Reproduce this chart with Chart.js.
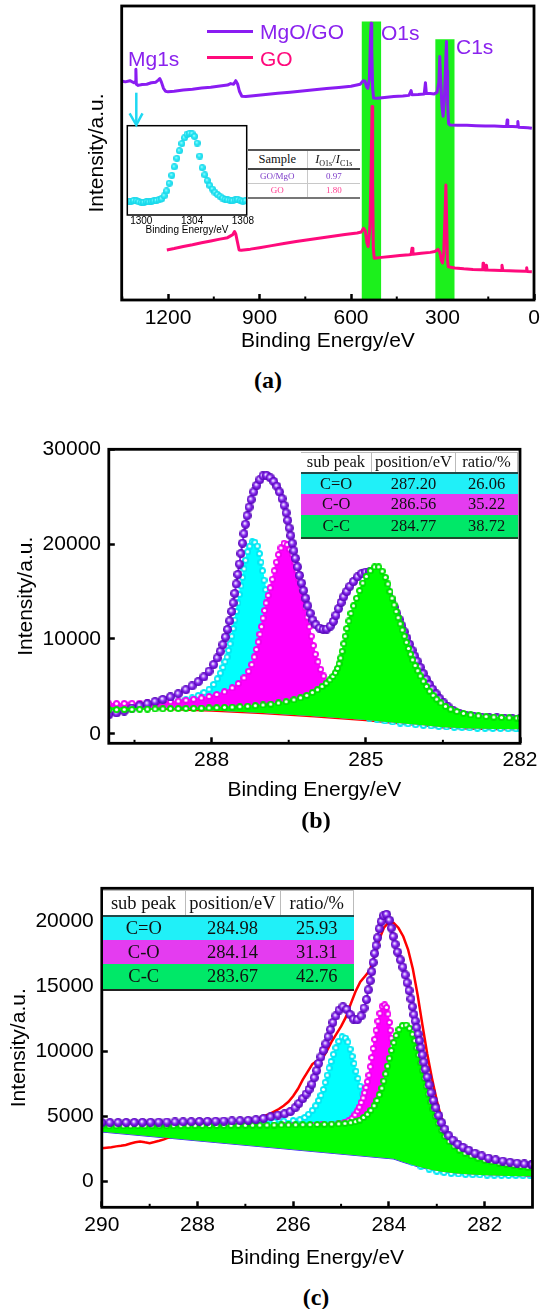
<!DOCTYPE html>
<html>
<head>
<meta charset="utf-8">
<title>XPS of MgO/GO and GO</title>
<script src="https://cdn.jsdelivr.net/npm/chart.js@4.4.1/dist/chart.umd.min.js"></script>
<style>
  html, body { margin: 0; padding: 0; background: #fff; }
  #page { position: relative; width: 545px; height: 1309px; overflow: hidden; font-family: 'Liberation Sans', Arial, sans-serif; }
  #page canvas { position: absolute; }
  .note { position: absolute; white-space: nowrap; line-height: 1; font-size: 21px; transform: translateY(-50%); }
  .panel { position: absolute; line-height: 1; font: bold 24px 'Liberation Serif', 'Times New Roman', serif; transform: translate(-50%, -50%); }
  .key { position: absolute; height: 3px; }
  table.fit { position: absolute; border-collapse: collapse; table-layout: fixed; font-family: 'Liberation Serif', 'Times New Roman', serif; color: #111; }
  table.fit td { padding: 0; text-align: center; white-space: nowrap; overflow: hidden; line-height: 1; }
  .sb { font-size: 8px; position: relative; top: 3px; }
</style>
</head>
<body>
<div id="page">
  <canvas id="survey" width="545" height="360" style="left:0;top:0"></canvas>
  <canvas id="mgInset" width="160" height="125" style="left:100px;top:115px"></canvas>
  <canvas id="c1sGO" width="545" height="415" style="left:0;top:400px"></canvas>
  <canvas id="c1sMgO" width="545" height="415" style="left:0;top:860px"></canvas>

  <div class="key" style="left:207px;top:29.5px;width:46px;background:#8a1cf2"></div>
  <div class="note" style="left:260px;top:31px;color:#8a22ee">MgO/GO</div>
  <div class="key" style="left:207px;top:56px;width:46px;background:#ff0a7c"></div>
  <div class="note" style="left:260px;top:57.5px;color:#ff0a7c">GO</div>
  <div class="note" style="left:128px;top:57.5px;color:#8a22ee">Mg1s</div>
  <div class="note" style="left:381px;top:32px;color:#8a22ee">O1s</div>
  <div class="note" style="left:456px;top:46px;color:#8a22ee">C1s</div>
  <svg style="position:absolute;left:120px;top:88px" width="34" height="42">
    <path d="M16.3 4.7 V36" stroke="#1ed8f2" stroke-width="2.5" fill="none"/>
    <path d="M9.6 25.3 L16.3 37 L22.5 25.3" stroke="#1ed8f2" stroke-width="2.5" fill="none"/>
  </svg>

  <table class="fit" id="ratioTable" style="left:247.5px;top:148.7px;width:112px"></table>
  <table class="fit" id="fitTableB" style="left:300.7px;top:451.7px;width:217.3px;font-size:16.5px"></table>
  <table class="fit" id="fitTableC" style="left:102.5px;top:890px;width:251px;font-size:18.5px"></table>

  <div class="panel" style="left:268px;top:380px">(a)</div>
  <div class="panel" style="left:316px;top:820px">(b)</div>
  <div class="panel" style="left:316px;top:1297px">(c)</div>
</div>

<script>
// ---------- data (a): survey spectra, arbitrary units ----------
const surveyMgOGO = [[1352,74.5],[1340,74.2],[1325,74.6],[1312,73.9],[1307,74.3],[1305.5,78.5],[1304,73.4],[1298,73.0],[1285,73.3],[1270,73.4],[1255,73.9],[1240,74.1],[1232,74.8],[1227,75.3],[1222,74.2],[1215,72.0],[1208,71.0],[1200,70.8],[1180,71.0],[1150,71.4],[1120,71.7],[1090,72.1],[1060,72.4],[1030,72.8],[1005,73.1],[995,73.6],[985,73.4],[978,74.6],[972,73.5],[966,71.0],[958,69.3],[945,69.2],[920,69.5],[880,69.9],[840,70.3],[800,70.7],[760,71.1],[720,71.5],[680,71.9],[640,72.3],[600,72.7],[570,73.4],[560,74.6],[554,74.4],[549,72.5],[545,72.0],[540,75.0],[536,90.0],[534,94.1],[532,85.0],[529,72.0],[526,68.7],[515,68.6],[490,68.9],[460,69.2],[430,69.4],[410,69.6],[403,71.2],[400,69.8],[380,69.9],[360,70.1],[356,73.9],[353,70.2],[340,70.2],[327,70.1],[318,70.6],[312,74.0],[309,82.8],[306,75.0],[302,66.0],[298,62.5],[294,68.0],[290,80.0],[287,87.9],[285,78.0],[283,66.0],[280,60.0],[275,59.5],[250,59.4],[220,59.4],[190,59.3],[160,59.2],[130,59.2],[100,59.0],[90,59.1],[88,61.2],[86,59.0],[70,59.0],[55,58.9],[53,60.7],[51,58.8],[35,58.7],[20,58.6],[7,58.4]];
const surveyGO = [[1204,17.0],[1180,17.5],[1150,18.2],[1120,18.8],[1090,19.5],[1060,20.1],[1030,20.7],[1005,21.2],[995,21.8],[988,22.2],[982,23.3],[978,22.5],[973,20.0],[967,17.0],[960,16.9],[930,17.3],[900,17.8],[860,18.5],[820,19.2],[780,19.9],[740,20.5],[700,21.1],[660,21.7],[620,22.3],[580,22.8],[566,23.1],[559,24.4],[553,23.5],[548,19.5],[544,18.2],[538,25.0],[534,45.0],[531,65.8],[529,40.0],[527,18.0],[524,14.2],[500,14.5],[470,14.8],[440,15.1],[410,15.4],[403,15.5],[400,17.6],[397,15.6],[370,15.9],[340,16.2],[325,16.5],[315,17.2],[309,16.3],[304,13.5],[300,12.6],[296,16.0],[292,28.0],[289,39.1],[287,30.0],[284,14.0],[281,11.3],[260,10.9],[230,10.6],[200,10.4],[175,10.3],[168,10.3],[167,12.5],[165,10.3],[158,10.2],[156,11.8],[154,10.2],[130,10.1],[108,10.0],[105,11.8],[102,10.0],[60,9.9],[30,9.8],[26,9.8],[24,11.0],[22,9.7],[7,9.6]];
const o1sBand = [565.6, 500.7];
const c1sBand = [324, 260];
const bandTops = [94.7, 88.7];
const surveyTicks = [1200, 900, 600, 300, 0];
const surveyMinor = [1350, 1050, 750, 450, 150];

const mgInset = [[1299.0,15.0],[1299.2,15.5],[1299.4,16.2],[1299.6,15.8],[1299.8,14.8],[1300.0,14.0],[1300.2,14.2],[1300.4,15.0],[1300.6,14.6],[1300.8,15.2],[1301.0,15.8],[1301.2,16.2],[1301.4,16.8],[1301.6,18.0],[1301.8,21.5],[1302.0,27.0],[1302.2,35.5],[1302.4,44.5],[1302.6,54.0],[1302.8,63.5],[1303.0,72.0],[1303.2,80.0],[1303.4,86.5],[1303.6,90.5],[1303.8,91.5],[1304.0,91.0],[1304.2,88.0],[1304.4,80.5],[1304.6,66.0],[1304.8,53.0],[1305.0,45.0],[1305.2,38.5],[1305.4,33.0],[1305.6,29.0],[1305.8,25.5],[1306.0,23.0],[1306.2,20.8],[1306.4,19.0],[1306.6,17.5],[1306.8,16.8],[1307.0,16.5],[1307.2,16.0],[1307.4,16.8],[1307.6,17.5],[1307.8,16.5],[1308.0,15.5],[1308.2,16.0]];
const insetTicks = [1300, 1304, 1308];

const ratioSamples = ['GO/MgO', 'GO'];
const ratioValues = ['0.97', '1.80'];

// ---------- data (b): C1s of GO ----------
const envelopeB = [[290.0,2000],[289.85,2200],[289.7,2400],[289.55,2700],[289.4,2950],[289.25,3170],[289.1,3400],[288.95,3620],[288.8,3900],[288.65,4220],[288.5,4650],[288.38,5050],[288.26,5500],[288.15,6000],[288.05,6600],[287.96,7300],[287.89,8000],[287.83,8700],[287.78,9400],[287.73,10200],[287.69,11000],[287.65,11900],[287.61,12900],[287.58,13800],[287.55,14800],[287.52,15800],[287.49,16800],[287.46,17900],[287.43,19000],[287.40,20100],[287.37,21100],[287.34,22100],[287.31,23000],[287.27,23900],[287.23,24700],[287.18,25500],[287.12,26200],[287.06,26800],[287.0,27200],[286.93,27250],[286.86,27000],[286.79,26600],[286.73,26100],[286.68,25500],[286.63,24800],[286.59,24100],[286.55,23300],[286.52,22500],[286.49,21700],[286.46,20900],[286.43,20100],[286.40,19300],[286.37,18500],[286.33,17600],[286.29,16700],[286.25,15900],[286.21,15100],[286.17,14300],[286.13,13500],[286.08,12700],[286.03,12000],[285.97,11500],[285.90,11150],[285.83,11000],[285.76,11050],[285.69,11350],[285.63,11850],[285.58,12500],[285.53,13200],[285.48,13850],[285.43,14450],[285.37,15000],[285.31,15550],[285.24,16050],[285.16,16550],[285.08,16900],[285.0,17050],[284.92,17100],[284.84,16950],[284.77,16600],[284.71,16200],[284.65,15700],[284.6,15200],[284.55,14600],[284.5,14000],[284.45,13350],[284.4,12700],[284.35,12050],[284.3,11400],[284.25,10750],[284.2,10100],[284.15,9450],[284.1,8800],[284.05,8200],[284.0,7650],[283.94,7000],[283.88,6350],[283.82,5750],[283.76,5200],[283.7,4700],[283.63,4200],[283.56,3700],[283.48,3250],[283.4,2850],[283.3,2450],[283.18,2150],[283.05,1950],[282.9,1850],[282.75,1770],[282.6,1710],[282.45,1670],[282.3,1640],[282.15,1610],[282.0,1590]];
const carbonylB = [[290.0,3000],[289.85,3030],[289.7,3060],[289.55,3090],[289.4,3130],[289.25,3180],[289.1,3220],[288.95,3270],[288.8,3350],[288.65,3460],[288.5,3600],[288.38,3790],[288.26,4050],[288.15,4350],[288.05,4700],[287.96,5200],[287.89,5800],[287.83,6400],[287.78,7000],[287.74,7600],[287.7,8100],[287.67,8800],[287.64,9500],[287.61,10300],[287.58,11100],[287.55,12000],[287.52,12900],[287.49,13800],[287.46,14700],[287.43,15600],[287.4,16500],[287.37,17400],[287.34,18300],[287.3,19200],[287.26,19800],[287.21,20250],[287.16,20200],[287.11,19800],[287.07,19000],[287.04,18100],[287.01,17200],[286.98,16200],[286.95,15200],[286.92,14200],[286.89,13300],[286.86,12400],[286.83,11500],[286.79,10600],[286.75,9800],[286.7,9000],[286.65,8300],[286.6,7600],[286.54,6900],[286.47,6200],[286.4,5600],[286.32,5000],[286.22,4400],[286.1,3800],[285.97,3300],[285.83,2900],[285.68,2600],[285.53,2330],[285.38,2150],[285.23,1950],[285.08,1780],[284.93,1630],[284.78,1490],[284.63,1360],[284.48,1250],[284.33,1140],[284.18,1050],[284.03,960],[283.88,890],[283.73,830],[283.58,770],[283.43,720],[283.28,690],[283.13,660],[282.98,630],[282.83,600],[282.68,585],[282.53,570],[282.38,555],[282.23,540],[282.08,525],[282.0,520]];
const hydroxylB = [[290.0,3170],[289.85,3185],[289.7,3200],[289.55,3220],[289.4,3240],[289.25,3270],[289.1,3300],[288.95,3345],[288.8,3390],[288.65,3450],[288.5,3540],[288.35,3650],[288.2,3780],[288.05,3940],[287.9,4150],[287.75,4430],[287.6,4850],[287.48,5300],[287.37,5900],[287.28,6600],[287.22,7300],[287.17,8100],[287.13,8900],[287.09,9700],[287.06,10500],[287.03,11300],[287.0,12200],[286.97,13000],[286.94,13800],[286.9,14600],[286.86,15400],[286.82,16300],[286.78,17200],[286.74,18100],[286.7,18900],[286.65,19600],[286.59,20100],[286.53,19950],[286.48,19450],[286.43,18900],[286.38,18050],[286.34,17200],[286.3,16300],[286.26,15300],[286.22,14300],[286.18,13300],[286.14,12300],[286.1,11300],[286.06,10300],[286.02,9300],[285.98,8400],[285.93,7600],[285.88,6800],[285.82,6100],[285.75,5400],[285.67,4800],[285.58,4300],[285.5,3950],[285.4,3600],[285.28,3250],[285.15,2950],[285.0,2700],[284.85,2470],[284.7,2280],[284.55,2130],[284.4,2000],[284.25,1880],[284.1,1780],[283.95,1690],[283.8,1610],[283.65,1540],[283.5,1480],[283.35,1420],[283.2,1380],[283.05,1340],[282.9,1300],[282.75,1270],[282.6,1240],[282.45,1210],[282.3,1180],[282.15,1150],[282.0,1130]];
const graphiticB = [[290.0,2530],[289.85,2545],[289.7,2560],[289.55,2575],[289.4,2590],[289.25,2605],[289.1,2620],[288.95,2635],[288.8,2650],[288.65,2665],[288.5,2680],[288.35,2695],[288.2,2710],[288.05,2730],[287.9,2760],[287.75,2790],[287.6,2820],[287.45,2865],[287.3,2910],[287.15,2970],[287.0,3040],[286.85,3130],[286.7,3250],[286.55,3390],[286.4,3580],[286.27,3800],[286.15,4050],[286.04,4350],[285.94,4650],[285.85,5000],[285.77,5350],[285.7,5700],[285.64,6050],[285.59,6450],[285.55,6900],[285.52,7400],[285.49,8000],[285.46,8700],[285.43,9500],[285.4,10300],[285.37,11100],[285.33,11900],[285.29,12700],[285.24,13500],[285.18,14300],[285.12,15100],[285.06,15900],[284.99,16600],[284.91,17200],[284.83,17600],[284.75,17600],[284.68,17150],[284.62,16500],[284.57,15800],[284.53,15000],[284.49,14300],[284.45,13600],[284.41,12900],[284.37,12250],[284.33,11600],[284.29,10950],[284.25,10300],[284.21,9650],[284.17,9000],[284.13,8400],[284.09,7800],[284.04,7200],[283.99,6650],[283.94,6100],[283.88,5550],[283.82,5000],[283.76,4500],[283.69,4050],[283.62,3650],[283.54,3250],[283.45,2900],[283.35,2600],[283.23,2350],[283.1,2150],[282.96,2000],[282.81,1900],[282.66,1820],[282.51,1760],[282.36,1720],[282.21,1690],[282.06,1665],[282.0,1660]];
const baselineB = [[290,2800],[289,2650],[288,2450],[287,2200],[286,1850],[285,1450],[284.5,1200],[284,950],[283.5,700],[283,560],[282.5,500],[282,480]];
const xTicksB = [288, 285, 282];
const xMinorB = [289.5, 286.5, 283.5];
const yTicksB = [0, 10000, 20000, 30000];

const subPeaks = ['C=O', 'C-O', 'C-C'];
const positionsB = ['287.20', '286.56', '284.77'];
const ratiosB = ['26.06', '35.22', '38.72'];

// ---------- data (c): C1s of MgO/GO ----------
const envelopeC = [[290.0,4500],[289.83,4505],[289.66,4510],[289.49,4515],[289.32,4520],[289.15,4525],[288.98,4530],[288.81,4540],[288.64,4550],[288.47,4560],[288.3,4570],[288.13,4580],[287.96,4590],[287.79,4600],[287.62,4610],[287.45,4625],[287.28,4640],[287.11,4655],[286.94,4680],[286.78,4730],[286.62,4820],[286.47,4950],[286.32,5080],[286.18,5180],[286.06,5350],[285.96,5650],[285.88,5980],[285.8,6350],[285.73,6700],[285.67,7050],[285.61,7450],[285.56,7950],[285.51,8500],[285.47,9050],[285.42,9550],[285.37,10050],[285.32,10550],[285.27,11100],[285.22,11650],[285.17,12200],[285.11,12700],[285.04,13150],[284.96,13400],[284.88,13200],[284.81,12800],[284.74,12450],[284.66,12400],[284.58,12700],[284.52,13300],[284.47,13950],[284.43,14700],[284.39,15400],[284.36,16100],[284.33,16800],[284.3,17500],[284.27,18100],[284.24,18700],[284.2,19400],[284.16,19950],[284.11,20400],[284.05,20500],[283.99,20050],[283.95,19450],[283.91,18800],[283.87,18200],[283.82,17600],[283.76,17000],[283.71,16450],[283.66,15850],[283.62,15250],[283.58,14650],[283.54,14000],[283.51,13400],[283.48,12800],[283.45,12300],[283.42,11800],[283.39,11300],[283.36,10800],[283.33,10250],[283.3,9700],[283.27,9150],[283.24,8600],[283.2,8000],[283.16,7400],[283.12,6800],[283.07,6200],[283.02,5650],[282.96,5050],[282.9,4500],[282.83,4000],[282.75,3500],[282.66,3150],[282.56,2850],[282.45,2600],[282.33,2380],[282.2,2150],[282.06,1950],[281.92,1780],[281.77,1650],[281.62,1550],[281.47,1460],[281.32,1390],[281.17,1330],[281.02,1275],[281.0,1270]];
const carbonylC = [[290.0,4350],[289.8,4360],[289.6,4365],[289.4,4370],[289.2,4375],[289.0,4385],[288.8,4395],[288.6,4405],[288.4,4415],[288.2,4425],[288.0,4440],[287.8,4455],[287.6,4470],[287.4,4485],[287.2,4500],[287.0,4515],[286.8,4530],[286.6,4555],[286.4,4590],[286.2,4630],[286.0,4670],[285.86,4730],[285.76,4900],[285.68,5150],[285.6,5450],[285.53,5800],[285.47,6200],[285.42,6600],[285.37,7050],[285.33,7600],[285.29,8150],[285.25,8700],[285.21,9200],[285.16,9750],[285.11,10250],[285.05,10750],[284.98,11100],[284.91,11000],[284.86,10700],[284.81,10150],[284.77,9600],[284.73,9050],[284.69,8450],[284.65,7900],[284.6,7300],[284.55,6700],[284.5,6150],[284.44,5600],[284.37,5100],[284.3,4600],[284.22,4100],[284.13,3600],[284.03,3100],[283.92,2650],[283.8,2200],[283.66,1800],[283.5,1450],[283.33,1150],[283.16,930],[283.0,770],[282.85,670],[282.7,600],[282.55,560],[282.4,530],[282.25,505],[282.1,490],[281.95,475],[281.8,465],[281.65,455],[281.5,445],[281.35,438],[281.2,430],[281.05,423],[281.0,420]];
const hydroxylC = [[290.0,4100],[289.8,4105],[289.6,4110],[289.4,4115],[289.2,4120],[289.0,4125],[288.8,4130],[288.6,4135],[288.4,4140],[288.2,4145],[288.0,4150],[287.8,4160],[287.6,4170],[287.4,4180],[287.2,4190],[287.0,4200],[286.8,4210],[286.6,4220],[286.4,4235],[286.2,4250],[286.0,4265],[285.8,4285],[285.6,4310],[285.4,4340],[285.2,4380],[285.05,4430],[284.93,4520],[284.84,4650],[284.77,4850],[284.71,5100],[284.66,5400],[284.62,5700],[284.58,6050],[284.54,6400],[284.51,6800],[284.48,7200],[284.45,7650],[284.42,8150],[284.39,8800],[284.36,9500],[284.33,10200],[284.3,10900],[284.27,11600],[284.23,12300],[284.19,12900],[284.14,13450],[284.09,13550],[284.05,13350],[284.02,12850],[283.99,12200],[283.97,11600],[283.95,11000],[283.93,10400],[283.91,9800],[283.89,9200],[283.87,8600],[283.85,8000],[283.83,7400],[283.8,6800],[283.77,6200],[283.73,5600],[283.69,5000],[283.64,4400],[283.58,3800],[283.5,3200],[283.41,2700],[283.3,2250],[283.17,1900],[283.03,1600],[282.88,1380],[282.73,1220],[282.58,1100],[282.43,1010],[282.28,940],[282.13,880],[281.98,830],[281.83,790],[281.68,750],[281.53,720],[281.38,690],[281.23,660],[281.08,630],[281.0,620]];
const graphiticC = [[290.0,4250],[289.85,4252],[289.7,4254],[289.55,4256],[289.4,4258],[289.25,4260],[289.1,4262],[288.95,4264],[288.8,4266],[288.65,4268],[288.5,4270],[288.35,4272],[288.2,4274],[288.05,4277],[287.9,4280],[287.75,4283],[287.6,4286],[287.45,4289],[287.3,4292],[287.15,4296],[287.0,4300],[286.85,4304],[286.7,4308],[286.55,4313],[286.4,4318],[286.25,4324],[286.1,4330],[285.95,4337],[285.8,4345],[285.65,4353],[285.5,4362],[285.35,4375],[285.2,4390],[285.05,4410],[284.92,4445],[284.8,4500],[284.7,4580],[284.61,4700],[284.53,4900],[284.45,5150],[284.38,5450],[284.31,5800],[284.25,6200],[284.2,6650],[284.15,7150],[284.11,7700],[284.07,8250],[284.03,8850],[283.99,9450],[283.95,10050],[283.9,10650],[283.85,11200],[283.79,11650],[283.72,11950],[283.64,12000],[283.57,11750],[283.51,11300],[283.46,10800],[283.42,10250],[283.38,9700],[283.34,9100],[283.3,8500],[283.26,7900],[283.22,7300],[283.18,6700],[283.13,6100],[283.08,5550],[283.03,5000],[282.97,4450],[282.9,3900],[282.83,3450],[282.74,3050],[282.64,2700],[282.53,2400],[282.41,2150],[282.28,1950],[282.14,1780],[282.0,1620],[281.85,1500],[281.7,1390],[281.55,1300],[281.4,1220],[281.25,1150],[281.1,1080],[281.0,1020]];
const rawC = [[290.0,2530],[289.9,2580],[289.8,2620],[289.7,2680],[289.6,2720],[289.5,2790],[289.4,2900],[289.3,3000],[289.2,3060],[289.1,2990],[289.0,2930],[288.9,3010],[288.8,3110],[288.7,3220],[288.6,3380],[288.5,3550],[288.4,3720],[288.3,3900],[288.1,4080],[287.9,4200],[287.7,4290],[287.5,4370],[287.3,4450],[287.1,4540],[286.9,4670],[286.7,4870],[286.5,5150],[286.4,5350],[286.3,5550],[286.2,5800],[286.1,6100],[286.0,6550],[285.9,7100],[285.8,7800],[285.7,8400],[285.6,9000],[285.5,9250],[285.4,9350],[285.3,10000],[285.2,10700],[285.1,11300],[285.0,11900],[284.9,12600],[284.8,13600],[284.7,14550],[284.6,15300],[284.5,15750],[284.4,16200],[284.3,17300],[284.2,18600],[284.1,19500],[284.0,19900],[283.9,19850],[283.8,19450],[283.7,18800],[283.6,17800],[283.5,16300],[283.4,14300],[283.3,12000],[283.2,9800],[283.1,7900],[283.0,6200],[282.9,4800],[282.8,3800],[282.7,3200],[282.6,2800],[282.5,2500],[282.3,2150],[282.1,1850],[281.9,1650],[281.7,1520],[281.5,1420],[281.3,1320],[281.1,1240],[281.0,1200]];
const baselineC = [[290,3810],[283.9,1720],[283.7,1480],[283.5,1250],[283.3,1030],[283.1,860],[282.9,730],[282.6,600],[282.3,510],[282.0,460],[281.5,410],[281.0,370]];
const xTicksC = [290, 288, 286, 284, 282];
const xMinorC = [289, 287, 285, 283];
const yTicksC = [0, 5000, 10000, 15000, 20000];

const positionsC = ['284.98', '284.14', '283.67'];
const ratiosC = ['25.93', '31.31', '42.76'];

// ---------- styling ----------
const SANS = "'Liberation Sans', Arial, sans-serif";
const axisFont = { family: SANS, size: 21, lineHeight: 1.2 };
const smallFont = { family: SANS, size: 10, lineHeight: 1.2 };
const PURPLE = '#8a1cf2';
const PINK = '#ff0a7c';
const rowColors = ['#20f0f8', '#e43cf0', '#00e868'];

Chart.defaults.font.family = SANS;
Chart.defaults.color = '#000';

function xy(pairs) {
    return pairs.map(p => ({ x: p[0], y: p[1] }));
}

// shaded sphere used as a marker
function ball(d, stops) {
    const c = document.createElement('canvas');
    c.width = d; c.height = d;
    const g = c.getContext('2d');
    const r = d / 2;
    const grd = g.createRadialGradient(r * 0.8, r * 0.75, 0, r, r, r);
    stops.forEach(s => grd.addColorStop(s[0], s[1]));
    g.fillStyle = grd;
    g.beginPath(); g.arc(r, r, r, 0, Math.PI * 2); g.fill();
    return c;
}

// coloured dot with a white centre
function dot(d, color) {
    const c = document.createElement('canvas');
    c.width = d; c.height = d;
    const g = c.getContext('2d');
    const r = d / 2;
    g.fillStyle = color;
    g.beginPath(); g.arc(r, r, r, 0, Math.PI * 2); g.fill();
    g.fillStyle = '#ffffff';
    g.beginPath(); g.arc(r, r, r * 0.45, 0, Math.PI * 2); g.fill();
    return c;
}

const purpleBall = ball(9, [[0, '#ffffff'], [0.22, '#d4b4ff'], [0.5, '#8a2cf0'], [1, '#4e00b0']]);
const cyanDot = dot(7, '#00e8f4');
const magentaDot = dot(7, '#f000f0');
const greenDot = dot(7, '#00e000');
const insetBall = ball(7, [[0, '#c8fdff'], [0.4, '#30ecf8'], [1, '#14d2e6']]);

// frame round the plot area plus short minor ticks on the bottom axis
const framePlugin = {
    id: 'frame',
    beforeDraw(chart, args, opts) {
        if (!opts.fill) return;
        const a = chart.chartArea;
        chart.ctx.save();
        chart.ctx.fillStyle = opts.fill;
        chart.ctx.fillRect(a.left, a.top, a.right - a.left, a.bottom - a.top);
        chart.ctx.restore();
    },
    afterDraw(chart, args, opts) {
        const { ctx, chartArea: a } = chart;
        ctx.save();
        ctx.strokeStyle = '#000';
        ctx.lineWidth = opts.width || 2.8;
        ctx.strokeRect(a.left, a.top, a.right - a.left, a.bottom - a.top);
        ctx.lineWidth = 2;
        (opts.minorX || []).forEach(v => {
            const px = chart.scales.x.getPixelForValue(v);
            ctx.beginPath();
            ctx.moveTo(px, a.bottom);
            ctx.lineTo(px, a.bottom - 3.5);
            ctx.stroke();
        });
        ctx.restore();
    }
};

function makeScales(o) {
    return {
        x: {
            type: 'linear', reverse: o.reverse, min: o.xMin, max: o.xMax,
            afterBuildTicks: s => { s.ticks = o.xTicks.map(v => ({ value: v })); },
            // fixed height; no extra side padding for the end labels
            afterFit: s => { s.height = o.xHeight; s.paddingLeft = 0; s.paddingRight = 0; },
            border: { display: false },
            grid: { drawOnChartArea: false, drawTicks: o.tickMarks !== false, tickLength: -6, tickWidth: 2.5, tickColor: '#000' },
            ticks: { font: o.font || axisFont, color: '#000', padding: o.xPad, maxRotation: 0, autoSkip: false, callback: v => String(v) },
            title: { display: true, text: 'Binding Energy/eV', font: o.font || axisFont, color: '#000', padding: { top: 0, bottom: o.xTitlePad } }
        },
        y: {
            type: 'linear', min: o.yMin, max: o.yMax,
            afterBuildTicks: s => { s.ticks = (o.yTicks || []).map(v => ({ value: v })); },
            afterFit: s => { s.width = o.yWidth; s.paddingTop = 0; s.paddingBottom = 0; },
            border: { display: false },
            grid: { drawOnChartArea: false, drawTicks: !!o.yTicks, tickLength: -6, tickWidth: 2.5, tickColor: '#000' },
            ticks: { display: !!o.yTicks, font: axisFont, color: '#000', padding: o.yPad || 0, callback: v => String(v) },
            title: { display: o.yTitlePad !== undefined, text: 'Intensity/a.u.', font: axisFont, color: '#000', padding: { top: o.yTitlePad || 0, bottom: 0 } }
        }
    };
}

function baseOptions(padding, frame, scales) {
    return {
        responsive: false, animation: false, devicePixelRatio: 1, events: [],
        layout: { padding: padding },
        plugins: { legend: { display: false }, tooltip: { enabled: false }, frame: frame },
        scales: scales
    };
}

// peak component: dotted outline filled down to the baseline (dataset 0)
function component(pairs, color, sprite, order) {
    return {
        data: xy(pairs), borderColor: color, borderWidth: 1.5, backgroundColor: color,
        fill: { target: 0, above: color, below: color },
        pointStyle: sprite, pointRadius: 3.5, order: order
    };
}

function envelope(pairs, order) {
    return {
        data: xy(pairs), borderColor: PURPLE, borderWidth: 2, fill: false,
        pointStyle: purpleBall, pointRadius: 4.5, order: order
    };
}

// ---------- (a) survey ----------
new Chart(document.getElementById('survey'), {
    type: 'line',
    data: {
        datasets: [
            { data: xy(surveyMgOGO), borderColor: PURPLE, borderWidth: 3, borderJoinStyle: 'round', pointRadius: 0, fill: false, order: 1 },
            { data: xy(surveyGO), borderColor: PINK, borderWidth: 3, borderJoinStyle: 'round', pointRadius: 0, fill: false, order: 2 },
            { data: o1sBand.map(v => ({ x: v, y: bandTops[0] })), borderWidth: 0, pointRadius: 0, backgroundColor: '#1cf01c', fill: 'origin', order: 5 },
            { data: c1sBand.map(v => ({ x: v, y: bandTops[1] })), borderWidth: 0, pointRadius: 0, backgroundColor: '#1cf01c', fill: 'origin', order: 5 }
        ]
    },
    options: baseOptions({ top: 6, right: 11, left: 0, bottom: 0 }, { minorX: surveyMinor },
        makeScales({ reverse: true, xMin: 0, xMax: 1352, xTicks: surveyTicks, xHeight: 60, xPad: 11.4, xTitlePad: 6.4,
                     yMin: 0, yMax: 100, yWidth: 121.7, yTitlePad: 84.4 })),
    plugins: [framePlugin]
});

// Mg1s inset
new Chart(document.getElementById('mgInset'), {
    type: 'line',
    data: { datasets: [{ data: xy(mgInset), showLine: false, pointStyle: insetBall, pointRadius: 3.5 }] },
    options: baseOptions({ top: 10.7, right: 13.3, left: 0, bottom: 0 }, { fill: '#fff', width: 1.5 },
        makeScales({ reverse: false, xMin: 1298.9, xMax: 1308.3, xTicks: insetTicks, xHeight: 25, xPad: 0, xTitlePad: 3.3,
                     font: smallFont, tickMarks: false, yMin: 0, yMax: 100, yWidth: 27.3 })),
    plugins: [framePlugin]
});

// ---------- (b) C1s GO ----------
new Chart(document.getElementById('c1sGO'), {
    type: 'line',
    data: {
        datasets: [
            { data: xy(baselineB), borderColor: '#ff0000', borderWidth: 2.5, pointRadius: 0, fill: false, order: 6 },
            component(carbonylB, '#00ffff', cyanDot, 5),
            component(hydroxylB, '#ff00ff', magentaDot, 4),
            envelope(envelopeB, 3),
            component(graphiticB, '#00ff00', greenDot, 2)
        ]
    },
    options: baseOptions({ top: 49.3, right: 25, left: 0, bottom: 0 }, { minorX: xMinorB },
        makeScales({ reverse: true, xMin: 282, xMax: 290, xTicks: xTicksB, xHeight: 71.7, xPad: 10.1, xTitlePad: 12.4,
                     yMin: -1000, yMax: 30000, yTicks: yTicksB, yWidth: 108.8, yPad: 13.8, yTitlePad: 13.4 })),
    plugins: [framePlugin]
});

// ---------- (c) C1s MgO/GO ----------
new Chart(document.getElementById('c1sMgO'), {
    type: 'line',
    data: {
        datasets: [
            { data: xy(baselineC), borderColor: '#2a20f0', borderWidth: 1.5, pointRadius: 0, fill: false, order: 7 },
            { data: xy(rawC), borderColor: '#ff0000', borderWidth: 2.5, pointRadius: 0, fill: false, order: 6 },
            component(carbonylC, '#00ffff', cyanDot, 5),
            component(hydroxylC, '#ff00ff', magentaDot, 4),
            component(graphiticC, '#00ff00', greenDot, 3),
            envelope(envelopeC, 1)
        ]
    },
    options: baseOptions({ top: 28.3, right: 12.5, left: 0, bottom: 0 }, { minorX: xMinorC },
        makeScales({ reverse: true, xMin: 281, xMax: 290, xTicks: xTicksC, xHeight: 67.7, xPad: 11.1, xTitlePad: 4.4,
                     yMin: -2000, yMax: 22500, yTicks: yTicksC, yWidth: 101.8, yPad: 14, yTitlePad: 6.4 })),
    plugins: [framePlugin]
});

// ---------- tables ----------
function renderRatioTable() {
    const t = document.getElementById('ratioTable');
    const head = 'font-size:12.5px;background:#fff;border-top:2px solid #555;border-bottom:2px solid #444;';
    let html = '<colgroup><col style="width:60px"><col style="width:52px"></colgroup>';
    html += `<tr style="height:19.6px"><td style="${head}border-right:1px solid #c8c8c8">Sample</td>` +
            `<td style="${head}"><i>I</i><span class="sb">O1s</span>/<i>I</i><span class="sb">C1s</span></td></tr>`;
    const colors = ['#7d3cc8', '#ff3d8f'];
    ratioSamples.forEach((s, i) => {
        const last = i === ratioSamples.length - 1;
        const b = last ? 'border-bottom:2px solid #777;' : 'border-bottom:1px solid #c8c8c8;';
        html += `<tr style="height:14.2px"><td style="font-size:9px;background:#fff;color:${colors[i]};${b}border-right:1px solid #c8c8c8">${s}</td>` +
                `<td style="font-size:9px;background:#fff;color:${colors[i]};${b}">${ratioValues[i]}</td></tr>`;
    });
    t.innerHTML = html;
}

function renderFitTable(id, widths, heights, positions, ratios, bottomColor) {
    const t = document.getElementById(id);
    let html = '<colgroup>' + widths.map(w => `<col style="width:${w}px">`).join('') + '</colgroup>';
    const hb = 'background:#fff;border-top:1px solid #bbb;border-bottom:2px solid #1f4a4a;';
    html += `<tr style="height:${heights[0]}px">` +
            `<td style="${hb}border-right:1px solid #bbb">sub peak</td>` +
            `<td style="${hb}border-right:1px solid #bbb">position/eV</td>` +
            `<td style="${hb}border-right:1px solid #bbb">ratio/%</td></tr>`;
    subPeaks.forEach((p, i) => {
        const b = i === subPeaks.length - 1 ? `border-bottom:2.5px solid ${bottomColor};` : '';
        const cell = `background:${rowColors[i]};${b}`;
        html += `<tr style="height:${heights[i + 1]}px"><td style="${cell}">${p}</td>` +
                `<td style="${cell}">${positions[i]}</td><td style="${cell}">${ratios[i]}</td></tr>`;
    });
    t.innerHTML = html;
}

renderRatioTable();
renderFitTable('fitTableB', [71, 83.5, 62.8], [20.6, 21, 21.7, 22.3], positionsB, ratiosB, '#1b4b2b');
renderFitTable('fitTableC', [82.5, 95, 73.5], [25, 24.5, 23.5, 26], positionsC, ratiosC, '#222');
</script>
</body>
</html>
